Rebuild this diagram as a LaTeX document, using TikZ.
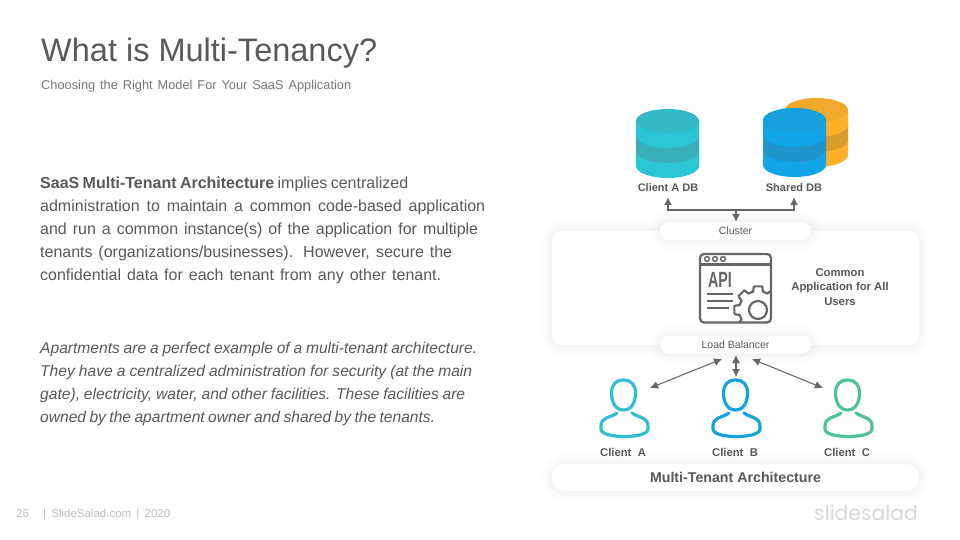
\documentclass[tikz,border=0pt]{standalone}
\usepackage{fontspec}
\setmainfont{Liberation Sans}
\newfontfamily\logofont{Poppins}
\usetikzlibrary{calc,arrows.meta}
\definecolor{titlecol}{HTML}{595959}
\definecolor{subcol}{HTML}{777777}
\definecolor{bodycol}{HTML}{595959}
\definecolor{linecol}{HTML}{666666}
\definecolor{footcol}{HTML}{BDBDBD}
\definecolor{logocol}{HTML}{D8D8D8}
\definecolor{tealA}{HTML}{2BC6D5}\definecolor{tealB}{HTML}{33B8C6}\definecolor{tealC}{HTML}{38AEBB}
\definecolor{blueA}{HTML}{12A6E8}\definecolor{blueB}{HTML}{17A0DC}\definecolor{blueC}{HTML}{2095CB}
\definecolor{orgA}{HTML}{FDB12B}\definecolor{orgB}{HTML}{EFA92B}\definecolor{orgC}{HTML}{D99F2E}
\definecolor{clientA}{HTML}{2FBFD0}\definecolor{clientB}{HTML}{15A3E0}\definecolor{clientC}{HTML}{4FC29A}
\newcommand{\fitline}[2]{\makebox[#1pt][s]{#2}}
\newcommand{\dbcyl}[5]{%
  \begin{scope}[shift={(#1,#2)}]
    \fill[#3] (0,12) -- (0,57) arc[start angle=180,end angle=0,x radius=31.5,y radius=12] -- (63,12) -- cycle;
    \fill[#5] (0,27) arc[start angle=180,end angle=0,x radius=31.5,y radius=12] -- (63,42)
      arc[start angle=0,end angle=180,x radius=31.5,y radius=12] -- cycle;
    \fill[#4] (31.5,12) ellipse[x radius=31.5,y radius=12];
  \end{scope}}
\newcommand{\personicon}[2]{%
  \begin{scope}[shift={(#1,0)},draw=#2,line width=3.2pt,line cap=round,line join=round]
    \draw (623.5,380) .. controls (631.5,380) and (635.5,385) .. (635.5,393)
      .. controls (635.5,403) and (631,410) .. (623.5,410)
      .. controls (616,410) and (611.5,403) .. (611.5,393)
      .. controls (611.5,385) and (615.5,380) .. (623.5,380) -- cycle;
    \draw (617,413) .. controls (610,418) and (601,417) .. (601,426) -- (601,429)
      .. controls (601,434) and (612,436.5) .. (624.5,436.5)
      .. controls (637,436.5) and (648,434) .. (648,429) -- (648,426)
      .. controls (648,417) and (639,418) .. (632,413);
  \end{scope}}
\tikzset{
  softpanel/.style={fill=white,draw=none,line join=round,
    preaction={draw=black,draw opacity=.006,line width=22pt},
    preaction={draw=black,draw opacity=.006,line width=16pt},
    preaction={draw=black,draw opacity=.007,line width=11pt},
    preaction={draw=black,draw opacity=.008,line width=7pt},
    preaction={draw=black,draw opacity=.009,line width=4pt},
    inner sep=0pt,text=bodycol},
  pill/.style={softpanel,rounded corners=9pt,minimum width=151pt,minimum height=18pt,
    font=\fontsize{10.5}{12}\selectfont},
  dblabel/.style={inner sep=0pt,minimum height=18pt,text=bodycol,font=\bfseries\fontsize{11}{14}\selectfont},
  clientlabel/.style={inner sep=0pt,text=bodycol,font=\bfseries\fontsize{11.3}{14}\selectfont},
  conn/.style={draw=linecol,line width=1.05pt},
  head/.style={-{Latex[length=8pt,width=8pt]}},
  twohead/.style={{Latex[length=8pt,width=8pt]}-{Latex[length=8pt,width=8pt]}},
  iconline/.style={draw=linecol,line width=2.2pt},
}
\begin{document}
\begin{tikzpicture}[x=1pt,y=-1pt]
\useasboundingbox (0,0) rectangle (960,540);
\fill[white] (0,0) rectangle (960,540);
% heading
\node (title) [anchor=west,inner sep=0pt,text=titlecol,font=\fontsize{32.5}{38}\selectfont] at (41,53) {What is Multi-Tenancy?};
\node (subtitle) [anchor=west,inner sep=0pt,text=subcol,font=\fontsize{12.8}{15}\selectfont] at (41,86.5) {\fitline{310}{Choosing the Right Model For Your SaaS Application}};
% body
\node (body) [anchor=north west,inner sep=0pt,align=left,text=bodycol,font=\fontsize{16}{23}\selectfont] at (40,177) {%
\fitline{368}{\textbf{SaaS Multi-Tenant Architecture} implies centralized}\\
\fitline{445}{administration to maintain a common code-based application}\\
\fitline{438}{and run a common instance(s) of the application for multiple}\\
\fitline{412}{tenants (organizations/businesses). However, secure the}\\
\fitline{401}{confidential data for each tenant from any other tenant.}};
\node (example) [anchor=north west,inner sep=0pt,align=left,text=bodycol,font=\itshape\fontsize{15.6}{23}\selectfont] at (40,342) {%
\fitline{437}{Apartments are a perfect example of a multi-tenant architecture.}\\
\fitline{432}{They have a centralized administration for security (at the main}\\
\fitline{425}{gate), electricity, water, and other facilities. These facilities are}\\
\fitline{395}{owned by the apartment owner and shared by the tenants.}};
% footer
\node (pageno) [anchor=base west,inner sep=0pt,text=footcol,font=\fontsize{11.5}{14}\selectfont] at (16,517.5) {26};
\node (footer) [anchor=base west,inner sep=0pt,text=footcol,font=\fontsize{11.5}{14}\selectfont] at (43,517.5) {\fitline{127}{| SlideSalad.com | 2020}};
\node (logo) [anchor=east,inner sep=0pt,text=logocol,font=\logofont\fontsize{20.3}{24}\selectfont] at (918,513) {slidesalad};
% databases
\dbcyl{785}{98}{orgA}{orgB}{orgC}
\dbcyl{636}{109}{tealA}{tealB}{tealC}
\dbcyl{763}{108}{blueA}{blueB}{blueC}
\node (adb) [dblabel] at (668,188) {Client A DB};
\node (sdb) [dblabel] at (794,188) {Shared DB};
% panels
\node (panel) [softpanel,rounded corners=10pt,minimum width=367pt,minimum height=114pt] at (735.5,288) {};
\node (cluster) [pill] at (735.5,231) {Cluster};
\node (lb) [pill] at (735.5,344.5) {Load Balancer};
\node (arch) [softpanel,rounded corners=13pt,minimum width=367pt,minimum height=27pt,font=\bfseries\fontsize{14.2}{17}\selectfont] at (735.5,477.5) {Multi-Tenant Architecture};
% connectors to databases
\coordinate (join) at (736,210);
\draw[conn,head] (join) -| (adb.south);
\draw[conn,head] (join) -| (sdb.south);
\draw[conn,head] (join) -- (join |- cluster.north);
% API icon
\draw[iconline,rounded corners=4pt] (700,254) rectangle (771,322.5);
\draw[iconline] (700,264.5) -- (771,264.5);
\foreach \cx in {707,715,723}{\draw[draw=linecol,line width=1.5pt] (\cx,259) circle[radius=2.4];}
\node (api) [inner sep=0pt,text=linecol,font=\bfseries\fontsize{22}{24}\selectfont] at (720,280) {\scalebox{.65}[1]{API}};
\draw[iconline] (707,294) -- (733,294);
\draw[iconline] (707,301) -- (733,301);
\draw[iconline] (707,308) -- (729,308);
\begin{scope}
\clip (700,254) rectangle (771,322.5);
\begin{scope}[shift={(758,310)}]
\foreach \a in {0,45,...,315}{
  \draw[iconline,line join=round] (\a-10:24) -- (\a+10:24) -- (\a+15:19) arc[start angle=\a+15,end angle=\a+30,radius=19] -- (\a+35:24);
}
\draw[iconline] (0,0) circle[radius=9];
\end{scope}
\end{scope}
\node (common) [inner sep=0pt,align=center,text=bodycol,font=\bfseries\fontsize{11.3}{14.5}\selectfont] at (840,287) {Common\\Application for All\\Users};
% clients
\personicon{0}{clientA}
\personicon{112}{clientB}
\personicon{224}{clientC}
\node (ca) [clientlabel] at (623,452) {Client\ \ A};
\node (cb) [clientlabel] at (735,452) {Client\ \ B};
\node (cc) [clientlabel] at (847,452) {Client\ \ C};
% connectors to clients
\coordinate (lbL) at (722,359);
\coordinate (lbR) at (752,359);
\coordinate (lbC) at (736,355);
\coordinate (icA) at (650,388);
\coordinate (icB) at (736,377);
\coordinate (icC) at (823,388);
\draw[conn,twohead] (lbL) -- (icA);
\draw[conn,twohead] (lbC) -- (icB);
\draw[conn,twohead] (lbR) -- (icC);
\end{tikzpicture}
\end{document}
